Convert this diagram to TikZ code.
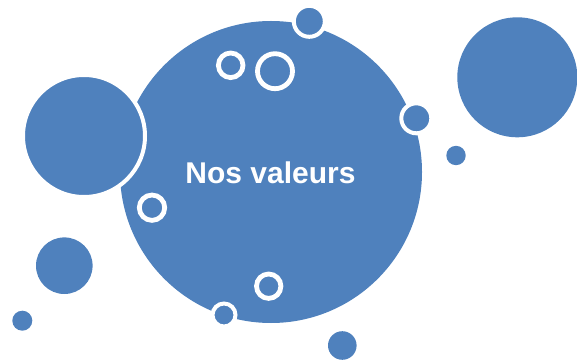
\documentclass[tikz,border=0pt]{standalone}
\usepackage{fontspec}
\setmainfont{Liberation Sans}
\definecolor{accent}{HTML}{4F81BD}
\begin{document}
\begin{tikzpicture}[x=1pt,y=-1pt,
  blob/.style={fill=accent,draw=white,line width=4pt},
  plain/.style={fill=accent},
  ring/.style={draw=white,line width=4.8pt}]
\useasboundingbox (0,0) rectangle (577,363);
% main circle
\path[plain] (271,172) circle (151);
% bordered circles
\path[blob] (84,136) circle (61);
\path[blob] (309.3,21.3) circle (15.5);
\path[blob] (416.3,118.3) circle (15);
\path[blob] (224,315) circle (11.5);
% plain circles
\path[plain] (517.3,77.3) circle (60);
\path[plain] (64.3,265.7) circle (28.3);
\path[plain] (22.3,320.7) circle (10);
\path[plain] (342.3,345.5) circle (14.3);
\path[plain] (456,155.5) circle (9.7);
% rings
\path[ring] (230.7,65.3) circle (12.3);
\path[ring] (275,71.2) circle (17.5);
\path[ring] (152,207.7) circle (12.7);
\path[ring] (268.7,286.2) circle (12.2);
% title
\node[text=white,font=\bfseries\fontsize{30}{36}\selectfont,inner sep=0pt] (title) at (270.5,172.5) {Nos valeurs};
\end{tikzpicture}
\end{document}
